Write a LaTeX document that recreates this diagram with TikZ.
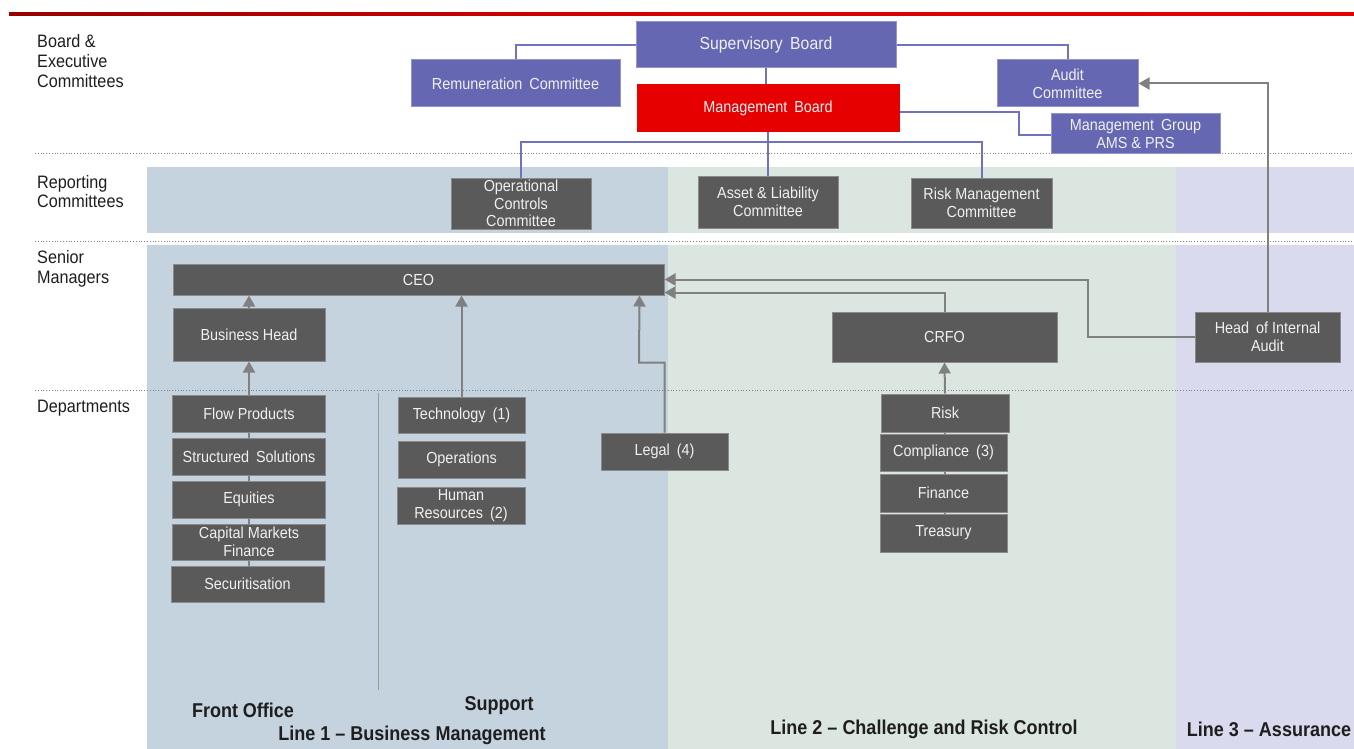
\documentclass[tikz,border=0pt]{standalone}
\usepackage{fontspec}
\setmainfont{Liberation Sans}[FakeStretch=0.9]
\usetikzlibrary{arrows.meta,calc}
\definecolor{purp}{HTML}{6667B3}
\definecolor{purpline}{HTML}{7072BC}
\definecolor{mbred}{HTML}{E60000}
\definecolor{dbox}{HTML}{5A5A5A}
\definecolor{dborder}{HTML}{8A8A8A}
\definecolor{lone}{HTML}{C5D3DF}
\definecolor{ltwo}{HTML}{DCE6E0}
\definecolor{lthree}{HTML}{D9DAEE}
\definecolor{arrgray}{HTML}{808080}
\definecolor{btext}{HTML}{F0F0F0}
\definecolor{lbl}{HTML}{1E1E1E}
\newcommand\wsp{\hspace{3pt}}
\pgfdeclarelayer{bands}
\pgfdeclarelayer{wires}
\pgfsetlayers{bands,wires,main}
\begin{document}
\begin{tikzpicture}[x=1pt,y=-1pt,
  sz/.style 2 args={minimum width=#1pt, minimum height=#2pt},
  box/.style={draw=dborder, line width=1pt, fill=dbox, text=btext, inner sep=0pt, align=center, font=\fontsize{16}{18}\selectfont},
  pbox/.style={box, fill=purp, draw=purp!70!white},
  rbox/.style={box, fill=mbred, draw=mbred},
  garr/.style={draw=arrgray, line width=2pt, -{Triangle[length=11pt,width=12pt]}},
  gline/.style={draw=arrgray, line width=1.5pt},
  pline/.style={draw=purpline, line width=2pt},
  side/.style={anchor=north west, align=left, text=lbl, inner sep=0pt},
  foot/.style={text=lbl, font=\bfseries\fontsize{20}{22}\selectfont, inner sep=0pt},
  dotl/.style={draw=gray, dotted, line width=0.8pt}]
\useasboundingbox (0,0) rectangle (1354,749);

% background bands
\begin{pgfonlayer}{bands}
\fill[white] (0,0) rectangle (1354,749);
\fill[lone] (147,167) rectangle (668,233);
\fill[ltwo] (668,167) rectangle (1176,233);
\fill[lthree] (1176,167) rectangle (1354,233);
\fill[lone] (147,245) rectangle (668,749);
\fill[ltwo] (668,245) rectangle (1176,749);
\fill[lthree] (1176,245) rectangle (1354,749);
\end{pgfonlayer}

% top red rule
\shade[left color=red!60!black, right color=red!90!black, middle color=red!85!black] (9,12.5) rectangle (1354,15.5);

% row separators
\draw[dotl] (35,153) -- (1354,153);
\draw[dotl] (35,241) -- (1354,241);
\draw[dotl] (35,390) -- (1354,390);
\draw[draw=gray!80, line width=0.8pt] (378,393) -- (378,690);

% side labels
\node[side, font=\fontsize{18}{20}\selectfont] (lboard) at (37,34) {Board \&\\Executive\\Committees};
\node[side, font=\fontsize{18}{19.5}\selectfont] (lrep) at (37,175) {Reporting\\Committees};
\node[side, font=\fontsize{18}{20}\selectfont] (lsen) at (37,250) {Senior\\Managers};
\node[side, font=\fontsize{18}{20}\selectfont] (ldep) at (37,400) {Departments};

% board level
\node[pbox, sz={260}{46}, font=\fontsize{17.5}{20}\selectfont] (sb) at (766,45) {Supervisory\wsp{} Board};
\node[pbox, sz={209}{47}] (rem) at (515.5,83.5) {Remuneration\wsp{} Committee};
\node[pbox, sz={141}{47}] (audit) at (1067.5,83.5) {Audit\\Committee};
\node[rbox, sz={262}{47}] (mb) at (768,108.5) {Management\wsp{} Board};
\node[pbox, sz={169}{39}] (mg) at (1135.5,133.5) {Management\wsp{} Group\\AMS \& PRS};

% reporting committees
\node[box, sz={140}{51}, font=\fontsize{16}{17.5}\selectfont] (occ) at (521,203.5) {Operational\\Controls\\Committee};
\node[box, sz={140}{52}] (alc) at (768,202) {Asset \& Liability\\Committee};
\node[box, sz={141}{50}] (rmc) at (981.5,203) {Risk Management\\Committee};

% senior managers
\node[box, sz={491}{31}] (ceo) at (418.5,279.5) {CEO};
\node[box, sz={152}{53}] (bh) at (249,334.5) {Business Head};
\node[box, sz={225}{50}] (crfo) at (944.5,337) {CRFO};
\node[box, sz={145}{50}] (hia) at (1267.5,337) {Head\wsp{} of Internal\\Audit};

% departments - front office
\node[box, sz={153}{37}] (fp) at (249,413.5) {Flow Products};
\node[box, sz={153}{37}] (ss) at (249,456.5) {Structured\wsp{} Solutions};
\node[box, sz={153}{37}] (eq) at (249,499.5) {Equities};
\node[box, sz={153}{36}] (cmf) at (249,542) {Capital Markets\\Finance};
\node[box, sz={153}{36}] (sec) at (247.5,584) {Securitisation};

% support
\node[box, sz={127}{36}] (tech) at (461.5,415) {Technology\wsp{} (1)};
\node[box, sz={127}{37}] (ops) at (461.5,459.5) {Operations};
\node[box, sz={128}{37}] (hr) at (461,505.5) {Human\\Resources\wsp{} (2)};
\node[box, sz={127}{37}] (legal) at (664.5,451.5) {Legal\wsp{} (4)};

% line 2
\node[box, sz={128}{38}] (risk) at (945,413) {Risk};
\node[box, sz={127}{37}] (comp) at (943.5,452.5) {Compliance\wsp{} (3)};
\node[box, sz={127}{38}] (fin) at (943.5,493) {Finance};
\node[box, sz={127}{38}] (trea) at (943.5,533) {Treasury};

% footer labels
\node[foot] (ffo) at (243,710) {Front Office};
\node[foot] (fsup) at (499,706) {Support};
\node[foot] (fl1) at (412,735) {Line 1 – Business Management};
\node[foot] (fl2) at (924,729) {Line 2 – Challenge and Risk Control};
\node[foot] (fl3) at (1269,729) {Line 3 – Assurance};

% connectors
\begin{pgfonlayer}{wires}
\draw[pline] (sb.west) -| (rem.north);
\draw[pline] (sb.east) -| (audit.north);
\draw[pline] (sb.south) -- (sb.south |- mb.north);
\draw[pline] ([yshift=-3.5pt]mb.east) -- ++(119,0) |- ([yshift=-1.5pt]mg.west);
\draw[pline] (mb.south) -- ++(0,9.5) coordinate (mbj);
\draw[pline] (mbj) -| (occ.north);
\draw[pline] (mbj) -| (rmc.north);
\draw[pline] (mbj) -- (alc.north);

\draw[gline] (fp.center) -- (fp.center |- sec.center);
\draw[gline] (risk.center) -- (risk.center |- trea.center);

\draw[garr] (bh.north) -- (bh.north |- ceo.south);
\draw[garr] (fp.north) -- (bh.south);
\draw[garr] (tech.north) -- (tech.north |- ceo.south);
\draw[garr] (legal.north) -- ++(0,-70) -- ++(-25.5,0) -- ($(ceo.south east)+(-25,0)$);
\draw[garr] (crfo.north) |- ([yshift=3pt]ceo.south east);
\draw[garr] (hia.west) -- ++(-107,0) |- (ceo.east);
\draw[garr] (hia.north) |- (audit.east);
\draw[garr] (risk.north) -- (crfo.south);
\end{pgfonlayer}
\end{tikzpicture}
\end{document}
